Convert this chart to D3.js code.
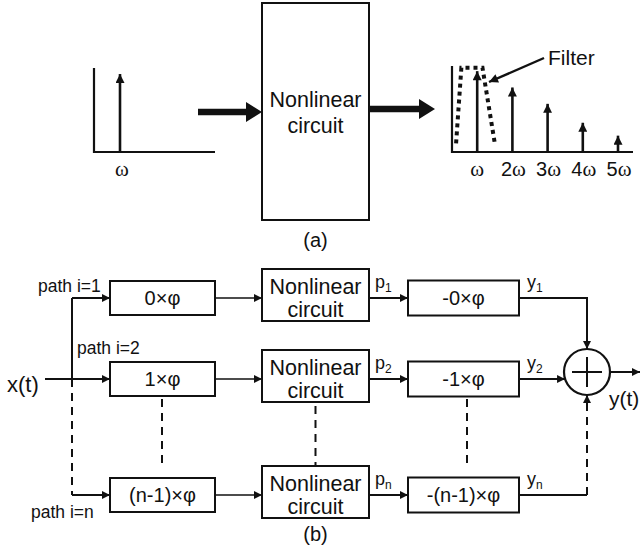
<!DOCTYPE html>
<html>
<head>
<meta charset="utf-8">
<script src="https://cdn.jsdelivr.net/npm/d3@7"></script>
<style>
  body { margin: 0; background: #fff; }
  text { font-family: "Liberation Sans", Arial, sans-serif; fill: #111; }
  .serif { font-family: "Liberation Serif", "Times New Roman", serif; }
</style>
</head>
<body>
<div id="container"></div>
<script>
/* DATA */
// output spectrum of the nonlinear circuit: harmonic number and relative amplitude
const harmonics = [1, 2, 3, 4, 5];
const harmonicAmps = [0.94, 0.75, 0.56, 0.34, 0.19];
const harmonicLabels = ["", "2", "3", "4", "5"];
// input spectrum: single tone
const inputHarmonic = [1];
const inputAmp = [0.94];
// filter outline (harmonic units, amplitude)
const filterX = [0.4, 0.55, 1.15, 1.5];
const filterY = [0.1, 0.98, 0.98, 0.1];

// block diagram paths
const pathIds = ["1", "2", "n"];
const pathLabels = ["path i=1", "path i=2", "path i=n"];
const phaseIn = ["0×φ", "1×φ", "(n-1)×φ"];
const phaseOut = ["-0×φ", "-1×φ", "-(n-1)×φ"];

/* CONSTANTS */
const width = 640, height = 548;
const ink = "#111";

const svg = d3.select("#container").append("svg")
  .attr("width", width).attr("height", height);

const defs = svg.append("defs");
defs.append("marker")
  .attr("id", "arr")
  .attr("markerUnits", "userSpaceOnUse")
  .attr("viewBox", "0 0 10 10").attr("refX", 10).attr("refY", 5)
  .attr("markerWidth", 9).attr("markerHeight", 8)
  .attr("orient", "auto")
  .append("path").attr("d", "M0,0L10,5L0,10Z").attr("fill", ink);
defs.append("marker")
  .attr("id", "arrS")
  .attr("markerUnits", "userSpaceOnUse")
  .attr("viewBox", "0 0 10 10").attr("refX", 10).attr("refY", 5)
  .attr("markerWidth", 11).attr("markerHeight", 9)
  .attr("orient", "auto")
  .append("path").attr("d", "M0,0L10,5L0,10Z").attr("fill", ink);

function line(g, pts, opts = {}) {
  return g.append("path")
    .attr("d", d3.line()(pts))
    .attr("fill", "none")
    .attr("stroke", ink)
    .attr("stroke-width", opts.w || 2)
    .attr("stroke-dasharray", opts.dash || null)
    .attr("marker-end", opts.arrow ? `url(#${opts.arrow})` : null);
}

function fatArrow(g, x0, x1, y) {
  const head = 16, hw = 10, sw = 3.2;
  g.append("path")
    .attr("d", `M${x0},${y - sw}L${x1 - head},${y - sw}L${x1 - head},${y - hw}L${x1},${y}` +
               `L${x1 - head},${y + hw}L${x1 - head},${y + sw}L${x0},${y + sw}Z`)
    .attr("fill", ink);
}

/* (a) TOP PANEL */
const panelA = svg.append("g");

// input spectrum
const xIn = d3.scaleLinear().domain([0, 1]).range([94, 120]);
const yIn = d3.scaleLinear().domain([0, 1]).range([152, 68]);
line(panelA, [[xIn(0), yIn(1)], [xIn(0), yIn(0)], [215, yIn(0)]], { w: 2.2 });
panelA.selectAll(".inArrow").data(inputHarmonic).join("path")
  .attr("class", "inArrow")
  .attr("d", (d, i) => d3.line()([[xIn(d), yIn(0)], [xIn(d), yIn(inputAmp[i]) + 1]]))
  .attr("stroke", ink).attr("stroke-width", 2.6).attr("fill", "none")
  .attr("marker-end", "url(#arrS)");
panelA.append("text").attr("class", "serif")
  .attr("x", xIn(1) + 2).attr("y", 176).attr("text-anchor", "middle")
  .attr("font-size", 21).text("ω");

fatArrow(panelA, 198, 262, 112);

// nonlinear box
panelA.append("rect").attr("x", 262).attr("y", 3).attr("width", 107).attr("height", 217)
  .attr("fill", "none").attr("stroke", ink).attr("stroke-width", 2);
panelA.append("text").attr("x", 315.5).attr("y", 107).attr("text-anchor", "middle")
  .attr("font-size", 21.5).text("Nonlinear");
panelA.append("text").attr("x", 315.5).attr("y", 133).attr("text-anchor", "middle")
  .attr("font-size", 21.5).text("circuit");
panelA.append("text").attr("x", 315.5).attr("y", 247).attr("text-anchor", "middle")
  .attr("font-size", 20).text("(a)");

fatArrow(panelA, 370, 435, 109);

// output spectrum
const xOut = d3.scaleLinear().domain([0, 5]).range([442, 618]);
const yOut = d3.scaleLinear().domain([0, 1]).range([152, 66]);
line(panelA, [[452, yOut(1)], [452, yOut(0)], [633, yOut(0)]], { w: 2.2 });
panelA.selectAll(".harm").data(harmonics).join("path")
  .attr("class", "harm")
  .attr("d", (d, i) => d3.line()([[xOut(d), yOut(0)], [xOut(d), yOut(harmonicAmps[i])]]))
  .attr("stroke", ink).attr("stroke-width", 2.6).attr("fill", "none")
  .attr("marker-end", "url(#arrS)");
const hl = panelA.selectAll(".harmLabel").data(harmonics).join("text")
  .attr("class", "harmLabel")
  .attr("x", d => xOut(d) + (d === 1 ? 0 : 1)).attr("y", 176).attr("text-anchor", "middle")
  .attr("font-size", 20);
hl.append("tspan").text((d, i) => harmonicLabels[i]);
hl.append("tspan").attr("class", "serif").attr("font-size", 21).text("ω");

// filter
panelA.append("path")
  .attr("d", d3.line()(filterX.map((x, i) => [xOut(x), yOut(filterY[i])])))
  .attr("fill", "none").attr("stroke", ink).attr("stroke-width", 4)
  .attr("stroke-dasharray", "4,4");
line(panelA, [[544, 58], [489, 82]], { w: 2.4, arrow: "arrS" });
panelA.append("text").attr("x", 548).attr("y", 65).attr("font-size", 21).text("Filter");

/* (b) BOTTOM PANEL */
const panelB = svg.append("g");
const rowY = d3.scaleOrdinal().domain(pathIds).range([298, 379, 495]);
const colIn = { x: 110, w: 105, h: 34 };
const colNL = { x: 262, w: 107, h: 52 };
const colOut = { x: 408, w: 111, h: 35 };
const busX = 72, sumX = 587, sumY = 372, sumR = 23;

// input bus
line(panelB, [[busX, rowY("1")], [busX, rowY("2")]]);
line(panelB, [[busX, rowY("2")], [busX, rowY("n")]], { dash: "8,6" });
line(panelB, [[45, rowY("2")], [busX, rowY("2")]]);
panelB.append("text").attr("x", 7).attr("y", 392).attr("font-size", 22).text("x(t)");

const rows = panelB.selectAll(".row").data(pathIds).join("g").attr("class", "row");

rows.each(function (id, i) {
  const g = d3.select(this);
  const y = rowY(id);
  line(g, [[busX, y], [colIn.x, y]], { arrow: "arr" });
  g.append("rect").attr("x", colIn.x).attr("y", y - colIn.h / 2)
    .attr("width", colIn.w).attr("height", colIn.h)
    .attr("fill", "#fff").attr("stroke", ink).attr("stroke-width", 2);
  g.append("text").attr("x", colIn.x + colIn.w / 2).attr("y", y + 7)
    .attr("text-anchor", "middle").attr("font-size", 20).text(phaseIn[i]);

  line(g, [[colIn.x + colIn.w, y], [colNL.x, y]], { w: 1.6, arrow: "arr" });
  g.append("rect").attr("x", colNL.x).attr("y", y - colNL.h / 2 - 3)
    .attr("width", colNL.w).attr("height", colNL.h)
    .attr("fill", "#fff").attr("stroke", ink).attr("stroke-width", 2);
  g.append("text").attr("x", colNL.x + colNL.w / 2).attr("y", y - 4)
    .attr("text-anchor", "middle").attr("font-size", 21.5).text("Nonlinear");
  g.append("text").attr("x", colNL.x + colNL.w / 2).attr("y", y + 19)
    .attr("text-anchor", "middle").attr("font-size", 21.5).text("circuit");

  line(g, [[colNL.x + colNL.w, y], [colOut.x, y]], { arrow: "arr" });
  const p = g.append("text").attr("x", 375).attr("y", y - 10).attr("font-size", 18);
  p.append("tspan").text("p");
  p.append("tspan").attr("font-size", 12).attr("dy", 4).text(id);

  g.append("rect").attr("x", colOut.x).attr("y", y - colOut.h / 2)
    .attr("width", colOut.w).attr("height", colOut.h)
    .attr("fill", "#fff").attr("stroke", ink).attr("stroke-width", 2);
  g.append("text").attr("x", colOut.x + colOut.w / 2).attr("y", y + 7)
    .attr("text-anchor", "middle").attr("font-size", 20).text(phaseOut[i]);

  const yl = g.append("text").attr("x", 527).attr("y", y - 10).attr("font-size", 18);
  yl.append("tspan").text("y");
  yl.append("tspan").attr("font-size", 12).attr("dy", 4).text(id);
});

// path labels
panelB.append("text").attr("x", 38).attr("y", 292).attr("font-size", 17.5).text(pathLabels[0]);
panelB.append("text").attr("x", 77).attr("y", 354).attr("font-size", 17.5).text(pathLabels[1]);
panelB.append("text").attr("x", 31).attr("y", 518).attr("font-size", 17.5).text(pathLabels[2]);

// dashed continuation between row 2 and row n
const gapTop = rowY("2"), gapBot = rowY("n");
line(panelB, [[colIn.x + colIn.w / 2 - 0.5, gapTop + 20], [colIn.x + colIn.w / 2 - 0.5, gapBot - 30]], { dash: "8,6" });
line(panelB, [[colNL.x + colNL.w / 2, gapTop + 27], [colNL.x + colNL.w / 2, gapBot - 29]], { dash: "8,6" });
line(panelB, [[467, gapTop + 20], [467, gapBot - 30]], { dash: "8,6" });

// outputs to summer
const outEnd = colOut.x + colOut.w;
line(panelB, [[outEnd, rowY("1")], [sumX, rowY("1")], [sumX, sumY - sumR]], { arrow: "arr" });
const dy2 = rowY("2") - sumY;
line(panelB, [[outEnd, rowY("2")], [sumX - Math.sqrt(sumR * sumR - dy2 * dy2), rowY("2")]], { arrow: "arr" });
line(panelB, [[outEnd, rowY("n")], [sumX, rowY("n")]]);
line(panelB, [[sumX, rowY("n")], [sumX, sumY + sumR]], { dash: "8,6", arrow: "arr" });

panelB.append("circle").attr("cx", sumX).attr("cy", sumY).attr("r", sumR)
  .attr("fill", "#fff").attr("stroke", ink).attr("stroke-width", 2.2);
line(panelB, [[sumX - 15, sumY], [sumX + 15, sumY]], { w: 2 });
line(panelB, [[sumX, sumY - 15], [sumX, sumY + 15]], { w: 2 });
line(panelB, [[sumX + sumR, sumY], [width, sumY]], { arrow: "arr" });
panelB.append("text").attr("x", 609).attr("y", 406).attr("font-size", 21).text("y(t)");

panelB.append("text").attr("x", 315.5).attr("y", 541).attr("text-anchor", "middle")
  .attr("font-size", 20).text("(b)");
</script>
</body>
</html>
